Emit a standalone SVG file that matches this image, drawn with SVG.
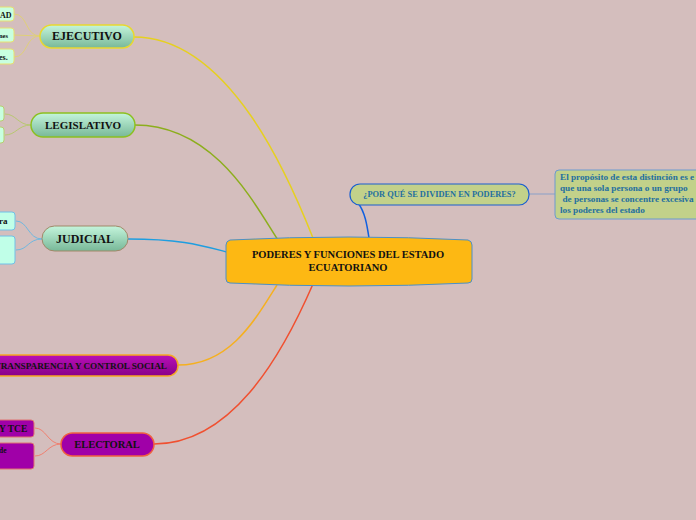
<svg xmlns="http://www.w3.org/2000/svg" width="696" height="520" viewBox="0 0 696 520">
<defs>
<linearGradient id="gGreen" x1="0" y1="0" x2="0" y2="1"><stop offset="0" stop-color="#c4f5dc"/><stop offset="1" stop-color="#78b898"/></linearGradient>
<linearGradient id="gPurple" x1="0" y1="0" x2="0" y2="1"><stop offset="0" stop-color="#b810b8"/><stop offset="1" stop-color="#880088"/></linearGradient>
</defs>
<style>
text{font-family:"Liberation Serif","Times New Roman",serif;font-weight:bold}
.c{fill:none;stroke-width:1.5}
.cc{fill:none;stroke-width:1}
.main{font-size:12px;fill:#111;text-anchor:middle}
.sm{font-size:8px;fill:#111}
.blue{fill:#1f6fa0}
</style>
<rect width="696" height="520" fill="#d4bebd"/>
<g id="connectors">
<path class="c" stroke="#e6d020" d="M134,37 C230,37 290,180 313,238"/>
<path class="c" stroke="#8cae1c" d="M135,125 C215,125 255,205 278,240"/>
<path class="c" stroke="#1e9ee0" d="M128,239 C180,239 200,245 227,252"/>
<path class="c" stroke="#f5b020" d="M178,365 C230,365 255,320 277,285"/>
<path class="c" stroke="#f05030" d="M154,444 C230,444 280,360 313,284"/>
<path class="c" stroke="#1060e0" d="M358,203 C365,212 367,225 369,238"/>
<path class="cc" stroke="#8aa0c8" d="M529,194 L556,194"/>
<path class="cc" stroke="#e0d078" d="M40,36 C25,36 28,14 14,14 M40,36 L14,35 M40,36 C25,36 28,57 14,57"/>
<path class="cc" stroke="#b8c870" d="M31,125 C18,125 16,114 5,114 M31,125 C18,125 16,135 5,135"/>
<path class="cc" stroke="#70b8e0" d="M42,239 C28,239 28,221 16,221 M42,239 C28,239 28,250 16,250"/>
<path class="cc" stroke="#f08070" d="M61,444 C48,444 46,428 35,428 M61,444 C48,444 46,456 35,456"/>
</g>
<g id="central">
<path d="M230,240 Q349,234 468,240 Q472,241 472,245 L472,279 Q472,283 468,283 Q349,289 230,283 Q226,283 226,279 L226,245 Q226,241 230,240 Z" fill="#fdb813" stroke="#4a90c8" stroke-width="1"/>
<text class="main" style="font-size:10.5px" x="348" y="258">PODERES Y FUNCIONES DEL ESTADO</text>
<text class="main" style="font-size:10.5px" x="348" y="271">ECUATORIANO</text>
</g>
<g id="ejecutivo">
<rect x="40" y="25" width="94" height="23" rx="11.5" fill="url(#gGreen)" stroke="#e8d830" stroke-width="1.5"/>
<text class="main" x="87" y="40">EJECUTIVO</text>
</g>
<g id="ejecutivo-1">
<rect x="-10" y="7" width="24" height="14" rx="3" fill="#c8ffe0" stroke="#e8e070"/>
<text class="sm" x="0" y="17.5">AD</text>
</g>
<g id="ejecutivo-2">
<rect x="-10" y="28" width="24" height="14" rx="3" fill="#c8ffe0" stroke="#e8e070"/>
<text class="sm" style="font-size:6.5px" x="-1" y="37.5">nes</text>
</g>
<g id="ejecutivo-3">
<rect x="-10" y="49" width="24" height="15" rx="3" fill="#c8ffe0" stroke="#e8e070"/>
<text class="sm" x="-1" y="60">es.</text>
</g>
<g id="legislativo">
<rect x="31" y="113" width="104" height="24" rx="12" fill="url(#gGreen)" stroke="#8cc020" stroke-width="1.5"/>
<text class="main" style="font-size:11px" x="83" y="129">LEGISLATIVO</text>
</g>
<g id="legislativo-1"><rect x="-10" y="106" width="14" height="15" rx="3" fill="#c8ffe0" stroke="#b8d070"/></g>
<g id="legislativo-2"><rect x="-10" y="127" width="14" height="16" rx="3" fill="#c8ffe0" stroke="#b8d070"/></g>
<g id="judicial">
<rect x="42" y="226" width="86" height="25" rx="12.5" fill="url(#gGreen)" stroke="#a08868" stroke-width="1"/>
<text class="main" x="85" y="242.5">JUDICIAL</text>
</g>
<g id="judicial-1">
<rect x="-10" y="212" width="25" height="18" rx="3" fill="#c0ffe8" stroke="#70c0e8"/>
<text class="sm" style="font-size:9px" x="-1" y="224">ra</text>
</g>
<g id="judicial-2"><rect x="-10" y="236" width="25" height="28" rx="3" fill="#c0ffe8" stroke="#70c0e8"/></g>
<g id="transparencia">
<rect x="-20" y="355" width="198" height="21" rx="10" fill="url(#gPurple)" stroke="#f5a623" stroke-width="1.5"/>
<text class="sm" style="font-size:9.2px" x="-5.5" y="368.5">TRANSPARENCIA  Y CONTROL SOCIAL</text>
</g>
<g id="electoral">
<rect x="61" y="433" width="93" height="23" rx="11.5" fill="#a000a8" stroke="#f06040" stroke-width="1.5"/>
<text class="main" style="font-size:10.5px" x="107" y="448">ELECTORAL</text>
</g>
<g id="electoral-1">
<rect x="-10" y="420" width="44" height="17" rx="3" fill="#a000a8" stroke="#e07070"/>
<text class="sm" style="font-size:9.5px" x="-1" y="432">Y TCE</text>
</g>
<g id="electoral-2">
<rect x="-10" y="443" width="44" height="26" rx="3" fill="#a000a8" stroke="#e07070"/>
<text class="sm" style="font-size:7.5px" x="-1" y="453">de</text>
</g>
<g id="porque">
<rect x="350" y="184" width="179" height="21" rx="10" fill="#c2d18a" stroke="#1a5fd0" stroke-width="1.2"/>
<text class="sm blue" style="font-size:8.4px" x="439.5" y="197" text-anchor="middle">¿POR QUÉ SE DIVIDEN EN PODERES?</text>
</g>
<g id="proposito">
<rect x="555" y="170" width="160" height="49" rx="4" fill="#c2d18a" stroke="#6a9ad0" stroke-width="1"/>
<text class="sm blue" style="font-size:9.2px" x="560" y="180">El propósito de esta distinción es e</text>
<text class="sm blue" style="font-size:9.2px" x="560" y="191">que una sola persona o un grupo</text>
<text class="sm blue" style="font-size:9.2px" x="562.5" y="202">de personas se concentre excesiva</text>
<text class="sm blue" style="font-size:9.2px" x="560" y="213">los poderes del estado</text>
</g>
</svg>
